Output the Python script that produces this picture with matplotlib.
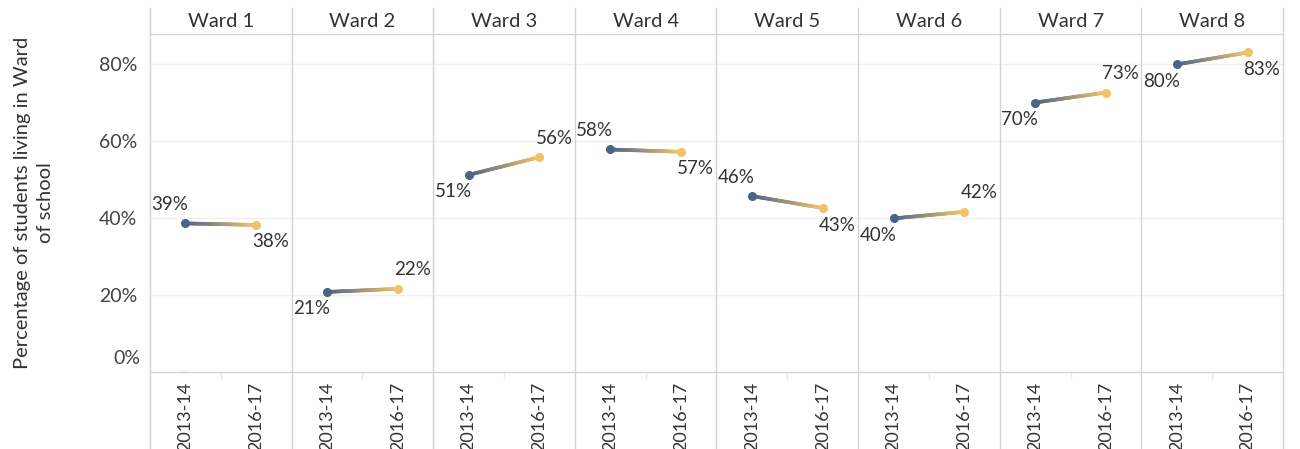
import numpy as np
import matplotlib
matplotlib.use('Agg')
import matplotlib.pyplot as plt
from matplotlib.collections import LineCollection
from matplotlib.colors import to_rgb

wards = ['Ward 1', 'Ward 2', 'Ward 3', 'Ward 4', 'Ward 5', 'Ward 6', 'Ward 7', 'Ward 8']
periods = ['2013-14', '2016-17']
pct_2013 = [38.6, 20.8, 51.2, 57.8, 45.7, 39.9, 70.0, 79.9]
pct_2016 = [38.2, 21.6, 55.8, 57.2, 42.6, 41.6, 72.6, 83.0]
# where tableau put each label, relative to its point
start_pos = ['above', 'below', 'below', 'above', 'above', 'below', 'below', 'below']
end_pos = ['below', 'above', 'above', 'below', 'below', 'above', 'above', 'below']
y_ticks = [0, 20, 40, 60, 80]

blue = '#4b6388'
gold = '#f2c26a'
sep_col = '#d3d3d3'
grid_col = '#efefef'
text_col = '#333333'

plt.rcParams['font.family'] = ['Lato', 'DejaVu Sans']

fig, axes = plt.subplots(1, len(wards), sharey=True, figsize=(13, 4.49), dpi=100)
fig.subplots_adjust(left=150 / 1300, right=1283 / 1300, bottom=1 - 372 / 449,
                    top=1 - 34 / 449, wspace=0)

top_ext = (372 - 8) / 338
bot_ext = (372 - 449) / 338


def gradient_line(ax, x0, y0, x1, y1, n=60):
    xs = np.linspace(x0, x1, n + 1)
    ys = np.linspace(y0, y1, n + 1)
    segs = np.stack([np.column_stack([xs[:-1], ys[:-1]]),
                     np.column_stack([xs[1:], ys[1:]])], axis=1)
    c0, c1 = np.array(to_rgb(blue)), np.array(to_rgb(gold))
    t = np.linspace(0, 1, n)[:, None]
    cols = c0 * (1 - t) + c1 * t
    lc = LineCollection(segs, colors=cols, linewidths=2.6, capstyle='round', zorder=3)
    ax.add_collection(lc)


for i, ax in enumerate(axes):
    v0, v1 = pct_2013[i], pct_2016[i]
    gradient_line(ax, 0, v0, 1, v1)
    ax.plot([0], [v0], 'o', color=blue, ms=5.5, zorder=4)
    ax.plot([1], [v1], 'o', color=gold, ms=5.5, zorder=4)

    dy0 = 19 if start_pos[i] == 'above' else -17
    dy1 = 19 if end_pos[i] == 'above' else -17
    ax.annotate(f'{v0:.0f}%', (0, v0), xytext=(3, dy0), textcoords='offset pixels',
                ha='right', va='center', fontsize=13.5, color=text_col, zorder=5,
                annotation_clip=False)
    ax.annotate(f'{v1:.0f}%', (1, v1), xytext=(-4, dy1), textcoords='offset pixels',
                ha='left', va='center', fontsize=13.5, color=text_col, zorder=5,
                annotation_clip=False)

    ax.set_xlim(-0.5, 1.5)
    ax.set_ylim(0, 87.8)
    ax.set_xticks([0, 1])
    ax.set_xticklabels(periods, rotation=90, fontsize=13, color=text_col)
    ax.set_xticks([0.5], minor=True)
    ax.tick_params(axis='x', which='major', length=0, pad=7)
    ax.tick_params(axis='x', which='minor', length=5, color='#e8e8e8', width=1)
    ax.tick_params(axis='y', length=0)

    for y in y_ticks[1:]:
        ax.axhline(y, color=grid_col, lw=1, zorder=0)

    for side in ['top', 'right', 'left']:
        ax.spines[side].set_visible(False)
    ax.spines['bottom'].set_color(sep_col)
    ax.spines['bottom'].set_linewidth(1)

    # panel separators running through header and tick area
    ax.plot([0, 0], [bot_ext, top_ext], transform=ax.transAxes, color=sep_col,
            lw=1, clip_on=False, zorder=1)
    if i == len(wards) - 1:
        ax.plot([1, 1], [bot_ext, top_ext], transform=ax.transAxes, color=sep_col,
                lw=1, clip_on=False, zorder=1)
    ax.plot([0, 1], [1, 1], transform=ax.transAxes, color=sep_col, lw=1,
            clip_on=False, zorder=1)
    ax.text(0.5, (1 + top_ext) / 2, wards[i], transform=ax.transAxes, ha='center',
            va='center', fontsize=14.5, color=text_col)

ax0 = axes[0]
ax0.set_yticks(y_ticks)
ax0.set_yticklabels([''] + [f'{y}%' for y in y_ticks[1:]], fontsize=14, color='#444444')
ax0.tick_params(axis='y', pad=9)
ax0.annotate('0%', (0, 0), xycoords=('axes fraction', 'data'), xytext=(-10, 13),
             textcoords='offset pixels', ha='right', va='center', fontsize=14,
             color='#444444', annotation_clip=False)
ax0.plot([-0.05, 0], [0, 0], transform=ax0.get_xaxis_transform(), color=sep_col,
         lw=1, clip_on=False)

fig.text(34 / 1300, 1 - 203 / 449, 'Percentage of students living in Ward\nof school',
         rotation=90, ha='center', va='center', multialignment='center',
         fontsize=14.5, color=text_col, linespacing=1.45)

fig.savefig('out.png', dpi=100, facecolor='white')
